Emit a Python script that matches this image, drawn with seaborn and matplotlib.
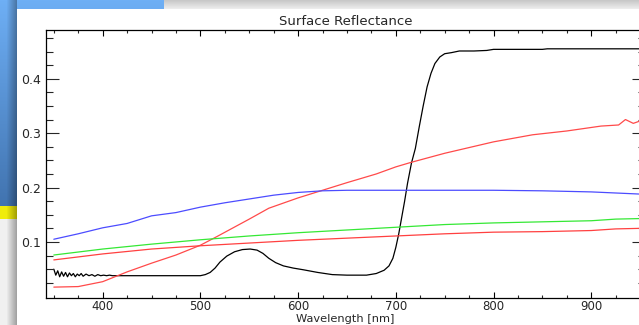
import numpy as np
import pandas as pd
import matplotlib
matplotlib.use("Agg")
import matplotlib.pyplot as plt
from matplotlib.ticker import MultipleLocator, FixedLocator
import seaborn as sns

# ---- spectra (wavelength in nm, surface reflectance) ----
blue_wl = [350, 375, 400, 425, 450, 475, 500, 525, 550, 575, 600, 625, 650, 700, 750, 800, 850, 900, 925, 950]
blue_rf = [0.105, 0.115, 0.126, 0.134, 0.148, 0.154, 0.164, 0.172, 0.179, 0.186, 0.191, 0.194, 0.195, 0.195,
           0.195, 0.195, 0.194, 0.192, 0.190, 0.188]

green_wl = [350, 400, 450, 500, 550, 600, 650, 700, 750, 800, 850, 900, 925, 950]
green_rf = [0.076, 0.087, 0.096, 0.104, 0.111, 0.117, 0.122, 0.127, 0.132, 0.135, 0.137, 0.139, 0.142, 0.143]

red_flat_wl = [350, 400, 450, 500, 550, 600, 650, 700, 750, 800, 850, 900, 925, 950]
red_flat_rf = [0.067, 0.078, 0.087, 0.093, 0.098, 0.103, 0.107, 0.111, 0.115, 0.118, 0.119, 0.121, 0.124, 0.125]

red_rise_wl = [350, 375, 400, 425, 450, 475, 500, 517, 550, 570, 600, 625, 650, 680, 700, 715, 750, 800,
               840, 875, 910, 928, 935, 943, 951]
red_rise_rf = [0.017, 0.018, 0.027, 0.045, 0.061, 0.076, 0.094, 0.110, 0.142, 0.162, 0.181, 0.195, 0.209,
               0.225, 0.238, 0.246, 0.263, 0.284, 0.297, 0.304, 0.313, 0.315, 0.325, 0.318, 0.323]

veg_wl = [350, 352, 354, 356, 358, 360, 362, 364, 366, 368, 370, 372, 374, 376, 378, 380, 383, 386, 389,
          392, 395, 398, 401, 404, 407, 410, 415, 420, 500, 505, 510, 515, 520, 527, 535, 543, 551, 558,
          564, 570, 577, 585, 595, 605, 620, 635, 650, 670, 680, 688, 693, 697, 700, 703, 706, 709, 712,
          716, 720, 724, 728, 732, 736, 740, 745, 750, 757, 765, 780, 793, 800, 850, 855, 950]
veg_rf = [0.050, 0.039, 0.047, 0.036, 0.045, 0.037, 0.044, 0.036, 0.043, 0.038, 0.042, 0.036, 0.041, 0.038,
          0.042, 0.037, 0.041, 0.038, 0.040, 0.037, 0.040, 0.038, 0.039, 0.038, 0.039, 0.038, 0.038, 0.038,
          0.038, 0.040, 0.044, 0.052, 0.063, 0.074, 0.082, 0.086, 0.087, 0.085, 0.079, 0.070, 0.062, 0.056,
          0.052, 0.049, 0.044, 0.040, 0.039, 0.039, 0.042, 0.048, 0.056, 0.070, 0.090, 0.115, 0.145, 0.175,
          0.208, 0.245, 0.272, 0.312, 0.350, 0.385, 0.410, 0.428, 0.440, 0.446, 0.448, 0.451, 0.451, 0.452,
          0.454, 0.454, 0.455, 0.455]

x_major = [400, 500, 600, 700, 800, 900]
x_labels = ["400", "500", "600", "700", "800", "900"]
y_major = [0.1, 0.2, 0.3, 0.4]
y_labels = ["0.1", "0.2", "0.3", "0.4"]

sns.set_style("ticks")
plt.rcParams["font.family"] = ["DejaVu Sans"]

W, H = 639, 325
fig = plt.figure(figsize=(W / 100, H / 100), dpi=100)

# ---- window backdrop: desktop blue, yellow band, title bar, panel shadow ----
bg = np.full((H, W, 3), 255.0)
rows = np.arange(H)[:, None]
t = rows / 206.0
blue = np.stack([110 - 45 * t, 175 - 60 * t, 245 - 70 * t], axis=-1)
bg[:206, :17] = np.broadcast_to(blue[:206], (206, 17, 3))
bg[:9, 17:164] = np.broadcast_to(blue[:9], (9, 147, 3))
bg[206:219, :17] = [240, 236, 10]
cols = np.arange(17)
shade = np.clip((cols - 6) / 11.0, 0, 1)
grey_strip = 240 - 85 * shade
bg[219:, :17] = grey_strip[None, :, None]
edge = 1 - 0.35 * shade
bg[:219, :17] *= edge[None, :, None]
bar = np.linspace(200, 236, 9)
bg[:9, 164:] = bar[:, None, None]

ax_bg = fig.add_axes([0, 0, 1, 1], zorder=-5)
ax_bg.imshow(np.clip(bg, 0, 255).astype(np.uint8), extent=(0, W, H, 0), interpolation="nearest", aspect="auto")
ax_bg.set_axis_off()

# ---- plot panel ----
left, right, top, bottom = 46, 645, 29.5, 298
ax = fig.add_axes([left / W, (H - bottom) / H, (right - left) / W, (bottom - top) / H])
ax.set_facecolor("white")

series = [
    (veg_wl, veg_rf, "black"),
    (red_rise_wl, red_rise_rf, "#ff4a4a"),
    (blue_wl, blue_rf, "#4c4cff"),
    (green_wl, green_rf, "#35e835"),
    (red_flat_wl, red_flat_rf, "#ff4040"),
]
for wl, rf, col in series:
    df = pd.DataFrame({"wl": wl, "rf": rf})
    sns.lineplot(data=df, x="wl", y="rf", color=col, linewidth=0.9, estimator=None, sort=False, ax=ax)

ax.set_xlim(342, 955)
ax.set_ylim(-0.003, 0.4905)

ax.xaxis.set_major_locator(FixedLocator(x_major))
ax.set_xticklabels(x_labels)
ax.xaxis.set_minor_locator(MultipleLocator(25))
ax.yaxis.set_major_locator(FixedLocator(y_major))
ax.set_yticklabels(y_labels)
ax.yaxis.set_minor_locator(FixedLocator(np.arange(0.025, 0.49, 0.025)))

ax.tick_params(axis="x", which="major", direction="in", length=4.5, width=0.8, top=True, bottom=True,
               labelsize=8.5, pad=1.8, color="black")
ax.tick_params(axis="x", which="minor", direction="in", length=2.2, width=0.8, top=True, bottom=True)
ax.tick_params(axis="y", which="major", direction="in", length=9.4, width=0.8, left=True, right=True,
               labelsize=9, pad=3.8)
ax.tick_params(axis="y", which="minor", direction="in", length=4.7, width=0.8, left=True, right=True)
for s in ax.spines.values():
    s.set_linewidth(0.9)
    s.set_color("black")

ax.set_title("Surface Reflectance", fontsize=9.5, pad=3)
ax.set_xlabel("Wavelength [nm]", fontsize=9)
ax.set_ylabel("")

# tuck the axis label directly under the tick labels, keeping it inside the canvas
fig.canvas.draw()
renderer = fig.canvas.get_renderer()
tick_bottom = min(tl.get_window_extent(renderer).y0 for tl in ax.get_xticklabels() if tl.get_text())
label = ax.xaxis.label
for fs in [9.0, 8.8, 8.6, 8.4, 8.2, 8.0, 7.8, 7.6]:
    label.set_fontsize(fs)
    if tick_bottom - label.get_window_extent(renderer).height >= 0.3:
        break
label.set_va("top")
y_axes = ax.transAxes.inverted().transform((0, tick_bottom - 0.1))[1]
ax.xaxis.set_label_coords(0.5, y_axes)

fig.savefig("out.png", dpi=100)
